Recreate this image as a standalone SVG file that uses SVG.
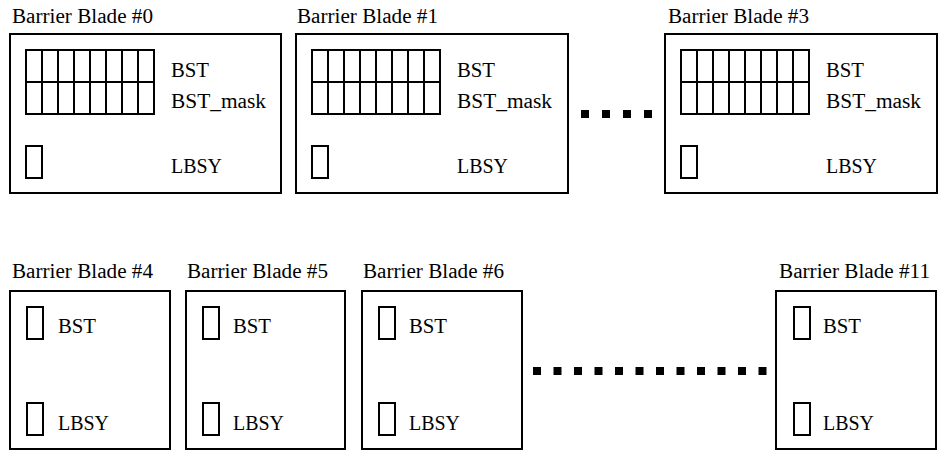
<svg xmlns="http://www.w3.org/2000/svg" xmlns:xlink="http://www.w3.org/1999/xlink" width="941" height="451" viewBox="0 0 941 451">
<style>
.box{fill:#fff;stroke:#000;stroke-width:2}
.cell{fill:none;stroke:#000;stroke-width:2}
.dots{stroke:#000;stroke-width:8;fill:none}
.a{font-family:"Liberation Serif","Times New Roman",serif;font-size:20px;fill:#000}
</style>
<defs>
<g id="grid">
<rect class="cell" x="0" y="0" width="128" height="64"/>
<path class="cell" d="M0 32H128M16 0V64M32 0V64M48 0V64M64 0V64M80 0V64M96 0V64M112 0V64"/>
</g>
</defs>
<g class="a">
<g id="blade0">
<text x="12" y="23" textLength="141" lengthAdjust="spacingAndGlyphs">Barrier Blade #0</text>
<rect class="box" x="10" y="34" width="271" height="159"/>
<use xlink:href="#grid" href="#grid" x="26" y="50"/>
<rect class="cell" x="26" y="146" width="16" height="32"/>
<text x="171" y="77" textLength="38" lengthAdjust="spacingAndGlyphs">BST</text>
<text x="171" y="108" textLength="95" lengthAdjust="spacingAndGlyphs">BST_mask</text>
<text x="171" y="173" textLength="51" lengthAdjust="spacingAndGlyphs">LBSY</text>
</g>
<g id="blade1">
<text x="297" y="23" textLength="141" lengthAdjust="spacingAndGlyphs">Barrier Blade #1</text>
<rect class="box" x="296" y="34" width="272" height="159"/>
<use xlink:href="#grid" href="#grid" x="312" y="50"/>
<rect class="cell" x="312" y="146" width="16" height="32"/>
<text x="457" y="77" textLength="38" lengthAdjust="spacingAndGlyphs">BST</text>
<text x="457" y="108" textLength="95" lengthAdjust="spacingAndGlyphs">BST_mask</text>
<text x="457" y="173" textLength="51" lengthAdjust="spacingAndGlyphs">LBSY</text>
</g>
<g id="blade3">
<text x="668" y="23" textLength="141" lengthAdjust="spacingAndGlyphs">Barrier Blade #3</text>
<rect class="box" x="665" y="34" width="272" height="159"/>
<use xlink:href="#grid" href="#grid" x="681" y="50"/>
<rect class="cell" x="681" y="146" width="16" height="32"/>
<text x="826" y="77" textLength="38" lengthAdjust="spacingAndGlyphs">BST</text>
<text x="826" y="108" textLength="95" lengthAdjust="spacingAndGlyphs">BST_mask</text>
<text x="826" y="173" textLength="51" lengthAdjust="spacingAndGlyphs">LBSY</text>
</g>
<g id="blade4">
<text x="12" y="278" textLength="141" lengthAdjust="spacingAndGlyphs">Barrier Blade #4</text>
<rect class="box" x="10" y="291" width="160" height="158"/>
<rect class="cell" x="27" y="307" width="16" height="32"/>
<rect class="cell" x="27" y="403" width="16" height="32"/>
<text x="58" y="333" textLength="38" lengthAdjust="spacingAndGlyphs">BST</text>
<text x="58" y="430" textLength="51" lengthAdjust="spacingAndGlyphs">LBSY</text>
</g>
<g id="blade5">
<text x="187" y="278" textLength="141" lengthAdjust="spacingAndGlyphs">Barrier Blade #5</text>
<rect class="box" x="186" y="291" width="159" height="158"/>
<rect class="cell" x="203" y="307" width="16" height="32"/>
<rect class="cell" x="203" y="403" width="16" height="32"/>
<text x="233" y="333" textLength="38" lengthAdjust="spacingAndGlyphs">BST</text>
<text x="233" y="430" textLength="51" lengthAdjust="spacingAndGlyphs">LBSY</text>
</g>
<g id="blade6">
<text x="363" y="278" textLength="141" lengthAdjust="spacingAndGlyphs">Barrier Blade #6</text>
<rect class="box" x="362" y="291" width="160" height="158"/>
<rect class="cell" x="379" y="307" width="16" height="32"/>
<rect class="cell" x="379" y="403" width="16" height="32"/>
<text x="409" y="333" textLength="38" lengthAdjust="spacingAndGlyphs">BST</text>
<text x="409" y="430" textLength="51" lengthAdjust="spacingAndGlyphs">LBSY</text>
</g>
<g id="blade11">
<text x="779" y="278" textLength="151" lengthAdjust="spacingAndGlyphs">Barrier Blade #11</text>
<rect class="box" x="776" y="291" width="160" height="158"/>
<rect class="cell" x="794" y="307" width="16" height="32"/>
<rect class="cell" x="794" y="403" width="16" height="32"/>
<text x="823" y="333" textLength="38" lengthAdjust="spacingAndGlyphs">BST</text>
<text x="823" y="430" textLength="51" lengthAdjust="spacingAndGlyphs">LBSY</text>
</g>
</g>
<g id="connectors">
<path class="dots" d="M581 114H652" stroke-dasharray="8 13"/>
<path class="dots" d="M533 371H767" stroke-dasharray="8 12.5"/>
</g>
</svg>
